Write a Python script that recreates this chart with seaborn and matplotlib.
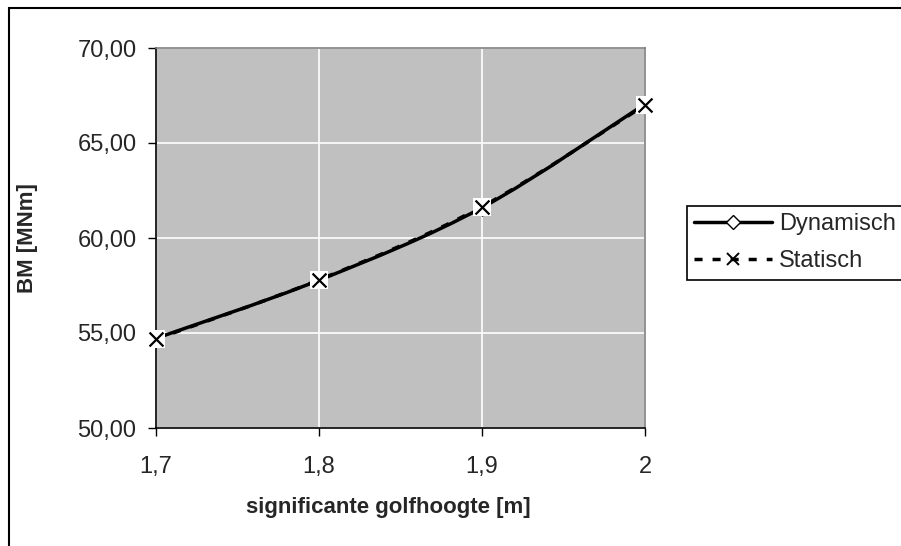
import matplotlib
matplotlib.use("Agg")
import matplotlib.pyplot as plt
import seaborn as sns
import numpy as np
import pandas as pd
from matplotlib.path import Path
from matplotlib.patches import PathPatch, Rectangle
from matplotlib.lines import Line2D

# ---- data ----
golfhoogte = [1.7, 1.8, 1.9, 2.0]
dynamisch = [54.72, 57.78, 61.60, 67.05]
statisch = [54.68, 57.80, 61.65, 67.00]
series_names = ["Dynamisch", "Statisch"]
y_ticks = [50, 55, 60, 65, 70]
y_tick_labels = ["50,00", "55,00", "60,00", "65,00", "70,00"]
x_ticks = [1.7, 1.8, 1.9, 2.0]
x_tick_labels = ["1,7", "1,8", "1,9", "2"]
x_label = "significante golfhoogte [m]"
y_label = "BM [MNm]"

sns.set_style("whitegrid", {
    "axes.facecolor": "#C0C0C0",
    "grid.color": "white",
    "axes.edgecolor": "#808080",
})
plt.rcParams["font.family"] = ["Liberation Sans", "DejaVu Sans"]
plt.rcParams["lines.scale_dashes"] = False

FS = 17
FS_T = 16

fig = plt.figure(figsize=(9.01, 5.46), dpi=100)
ax = fig.add_axes([156/901, 1-428/546, (645-156)/901, (428-48)/546])

df = pd.DataFrame({"x": golfhoogte, "dyn": dynamisch, "stat": statisch})


def smooth_path(xs, ys):
    pts = list(zip(xs, ys))
    n = len(pts)
    verts = [pts[0]]
    codes = [Path.MOVETO]
    for i in range(n - 1):
        p0 = pts[i - 1] if i > 0 else pts[i]
        p1 = pts[i]
        p2 = pts[i + 1]
        p3 = pts[i + 2] if i + 2 < n else pts[i + 1]
        c1 = (p1[0] + (p2[0] - p0[0]) / 6, p1[1] + (p2[1] - p0[1]) / 6)
        c2 = (p2[0] - (p3[0] - p1[0]) / 6, p2[1] - (p3[1] - p1[1]) / 6)
        verts += [c1, c2, p2]
        codes += [Path.CURVE4] * 3
    return Path(verts, codes)


LW = 2.5
DASH = (0, (5.8, 7.2))
ax.add_patch(PathPatch(smooth_path(golfhoogte, statisch), fill=False,
                       edgecolor="black", lw=LW, linestyle=DASH,
                       zorder=3, clip_on=False))
ax.add_patch(PathPatch(smooth_path(golfhoogte, dynamisch), fill=False,
                       edgecolor="black", lw=LW, zorder=3, clip_on=False))

sns.scatterplot(data=df, x="x", y="dyn", marker="D", s=60, color="white",
                edgecolor="black", linewidth=1, ax=ax, zorder=4, clip_on=False,
                legend=False)
sns.scatterplot(data=df, x="x", y="stat", marker="s", s=170, color="white",
                edgecolor="none", linewidth=0, ax=ax, zorder=5, clip_on=False,
                legend=False)
sns.scatterplot(data=df, x="x", y="stat", marker="x", s=100, color="black",
                linewidth=1.6, ax=ax, zorder=6, clip_on=False, legend=False)

ax.set_xlim(1.7, 2.0)
ax.set_ylim(50, 70)
ax.set_xticks(x_ticks)
ax.set_xticklabels(x_tick_labels, fontsize=FS)
ax.set_yticks(y_ticks)
ax.set_yticklabels(y_tick_labels, fontsize=FS)
ax.grid(True, color="white", lw=1.2)
ax.tick_params(axis="both", which="both", direction="out", length=6,
               width=1, color="black", left=True, bottom=True)
ax.tick_params(axis="y", pad=8)
ax.tick_params(axis="x", pad=14)
for s in ["top", "right"]:
    ax.spines[s].set_color("#808080")
    ax.spines[s].set_linewidth(1.2)
for s in ["left", "bottom"]:
    ax.spines[s].set_color("black")
    ax.spines[s].set_linewidth(1.2)

ax.set_xlabel(x_label, fontsize=FS_T, fontweight="bold")
ax.set_ylabel(y_label, fontsize=FS_T, fontweight="bold")
ax.xaxis.set_label_coords((388-156)/489, -(508-428)/380)
ax.yaxis.set_label_coords(-(156-28)/489, 0.5)
ax.xaxis.label.set_va("center")
ax.yaxis.label.set_va("center")

handles = [
    Line2D([], [], color="black", lw=LW, marker="D", markersize=7,
           markerfacecolor="white", markeredgecolor="black", markeredgewidth=1),
    Line2D([], [], color="black", lw=LW, linestyle=DASH, marker="x",
           markersize=8, markeredgewidth=1.4),
]
leg = fig.legend(handles, series_names, loc="upper left",
                 bbox_to_anchor=(687/901, 1-206/546), fontsize=FS,
                 frameon=True, fancybox=False, edgecolor="black",
                 facecolor="white",
                 handlelength=3.3, handletextpad=0.3, borderpad=0.3,
                 labelspacing=0.65, borderaxespad=0, framealpha=1)
leg.get_frame().set_linewidth(1.2)

# outer chart border (partially cropped)
fig.patches.append(Rectangle((9/901, -0.1), 1.2, 1-8/546+0.1,
                             transform=fig.transFigure, fill=False,
                             edgecolor="black", lw=1.5, zorder=0))

fig.savefig("out.png", dpi=100)
